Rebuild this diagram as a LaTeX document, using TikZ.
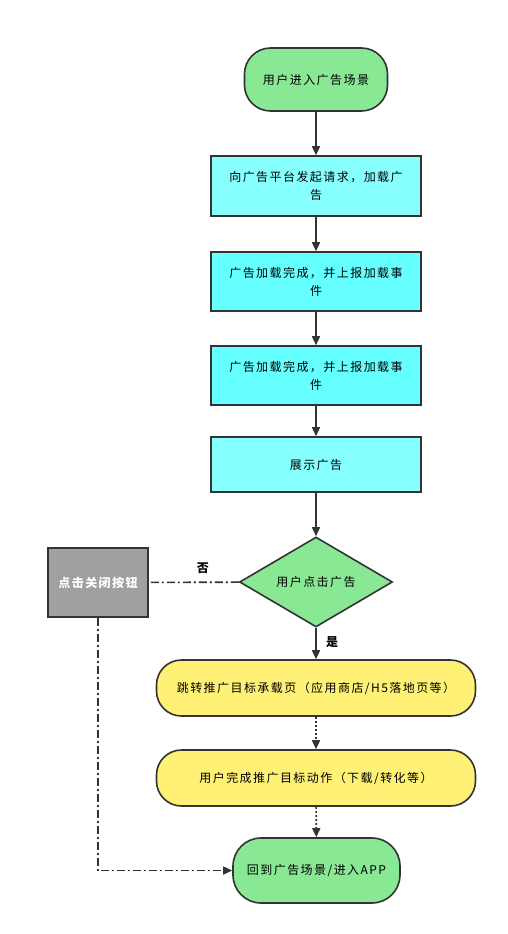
\documentclass[tikz,border=0pt]{standalone}
\usepackage{fontspec}
\usepackage{tikz}
\usetikzlibrary{arrows.meta,shapes.geometric}
\setmainfont{Noto Sans CJK SC}[LetterSpace=12]
\definecolor{linhacor}{HTML}{333333}
\definecolor{verde}{HTML}{88E894}
\definecolor{ciano}{HTML}{88FFFF}
\definecolor{cianoforte}{HTML}{66FFFF}
\definecolor{amarelo}{HTML}{FFF176}
\definecolor{cinza}{HTML}{A0A0A0}
\tikzset{
  caixa/.style={draw=linhacor, line width=1.6pt, align=center, inner sep=2pt,
    font=\fontsize{12pt}{18pt}\selectfont},
  terminal/.style={caixa, fill=verde, rounded corners=26pt},
  passo/.style={caixa, fill=ciano, minimum width=210pt, minimum height=60pt},
  amarela/.style={caixa, fill=amarelo, rounded corners=25pt, minimum width=319pt, minimum height=56pt},
  decisao/.style={caixa, diamond, aspect=1.7, fill=verde, inner sep=0pt, minimum width=153pt, minimum height=90pt},
  seta/.style={draw=linhacor, line width=1.6pt, -{Triangle[length=9pt,width=8pt]}},
  pontilhada/.style={seta, dash pattern=on 2pt off 2pt},
  tracoponto/.style={draw=linhacor, line width=1.6pt, dash pattern=on 8pt off 3pt on 2pt off 3pt},
  rotulo/.style={font=\bfseries\fontsize{12pt}{14pt}\selectfont}
}
\begin{document}
\begin{tikzpicture}[x=1pt,y=-1pt]
    \useasboundingbox (0,0) rectangle (508,934);

    % Inicio
    \node[terminal, minimum width=143pt, minimum height=63pt] (inicio) at (316,79.5) {用户进入广告场景};

    % Passos do carregamento
    \node[passo] (pedido) at (316,186) {向广告平台发起请求，加载广\\告};
    \node[passo, fill=cianoforte, minimum height=59pt] (carga1) at (316,281.5) {广告加载完成，并上报加载事\\件};
    \node[passo, fill=cianoforte, minimum height=59pt] (carga2) at (316,375.5) {广告加载完成，并上报加载事\\件};
    \node[passo, minimum height=55pt] (mostra) at (316,464.5) {展示广告};

    % Decisao
    \node[decisao] (clique) at (316,582) {用户点击广告};
    \node[caixa, fill=cinza, text=white, font=\bfseries\fontsize{12pt}{14pt}\selectfont,
      minimum width=100pt, minimum height=69pt] (fechar) at (98,582.5) {点击关闭按钮};

    % Caixas amarelas
    \node[amarela] (pagina) at (316,688) {跳转推广目标承载页（应用商店/H5落地页等）};
    \node[amarela] (acao) at (316,778) {用户完成推广目标动作（下载/转化等）};

    % Fim
    \node[terminal, minimum width=167pt, minimum height=65pt, rounded corners=28pt] (fim) at (316.5,870.5) {回到广告场景/进入APP};

    % Setas
    \draw[seta] (inicio) -- (pedido);
    \draw[seta] (pedido) -- (carga1);
    \draw[seta] (carga1) -- (carga2);
    \draw[seta] (carga2) -- (mostra);
    \draw[seta] (mostra) -- (clique);
    \draw[seta] (clique) -- node[rotulo, right=6pt, pos=0.45] {是} (pagina);
    \draw[pontilhada] (pagina) -- (acao);
    \draw[pontilhada] (acao) -- (fim);
    \draw[tracoponto] (clique) -- node[rotulo, above=5pt, pos=0.4] {否} (fechar);
    \draw[tracoponto, -{Triangle[length=9pt,width=8pt]}] (fechar.south) |- (fim.west);
\end{tikzpicture}
\end{document}
